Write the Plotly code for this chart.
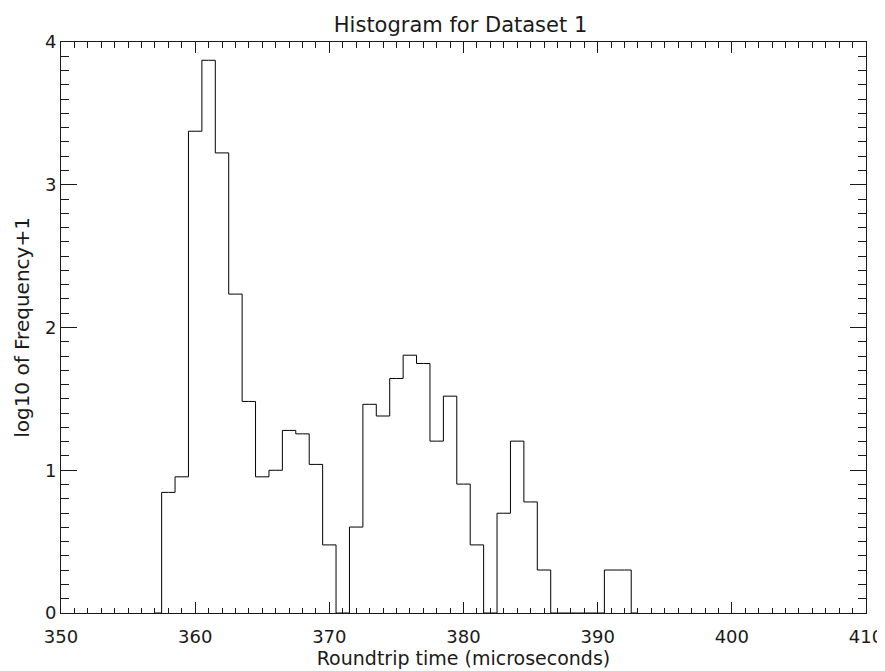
import plotly.graph_objects as go

# bin centres (microseconds) and log10(frequency + 1)
bin_centres = list(range(357, 394))
log_freq = [0.0,
            0.845, 0.954, 3.375, 3.872, 3.223, 2.234, 1.482, 0.954, 1.000, 1.279,
            1.255, 1.041, 0.477, 0.0, 0.602, 1.462, 1.380, 1.643, 1.806, 1.748,
            1.204, 1.519, 0.903, 0.477, 0.0, 0.699, 1.204, 0.778, 0.301, 0.0,
            0.0, 0.0, 0.0, 0.301, 0.301,
            0.0]

x_ticks = [350, 360, 370, 380, 390, 400, 410]
y_ticks = [0, 1, 2, 3, 4]

fnt = "DejaVu Sans"
ink = "#1a1a1a"

fig = go.Figure()
fig.add_trace(go.Scatter(x=bin_centres, y=log_freq, mode="lines",
                         line=dict(shape="hvh", color="black", width=1),
                         showlegend=False, hoverinfo="x+y"))

# page body has an 8px margin, so the figure is a bit smaller than the window
fig.update_layout(
    width=877, height=663,
    margin=dict(l=53, r=19, t=34, b=58),
    plot_bgcolor="white", paper_bgcolor="white",
    font=dict(family=fnt, size=18, color=ink),
    title=dict(text="Histogram for Dataset 1", x=0.516, xanchor="center",
               y=0.986, yanchor="top", font=dict(size=21, color=ink)),
)
fig.update_xaxes(
    range=[350, 410], tickvals=x_ticks, ticks="inside", ticklen=11,
    tickcolor=ink, showline=True, linecolor=ink, linewidth=1, mirror="allticks",
    showgrid=False, zeroline=False, automargin=False, ticklabelstandoff=7,
    minor=dict(dtick=1, ticks="inside", ticklen=5.5, tickcolor=ink, showgrid=False),
    title=dict(text="Roundtrip time (microseconds)", standoff=6,
               font=dict(size=19)),
)
fig.update_yaxes(
    range=[0, 4], tickvals=y_ticks, ticks="inside", ticklen=16,
    tickcolor=ink, showline=True, linecolor=ink, linewidth=1, mirror="allticks",
    showgrid=False, zeroline=False, automargin=False,
    minor=dict(dtick=0.1, ticks="inside", ticklen=8, tickcolor=ink, showgrid=False),
    title=dict(text="log10 of Frequency+1", standoff=9, font=dict(size=20)),
)

fig.write_html("out.html")
